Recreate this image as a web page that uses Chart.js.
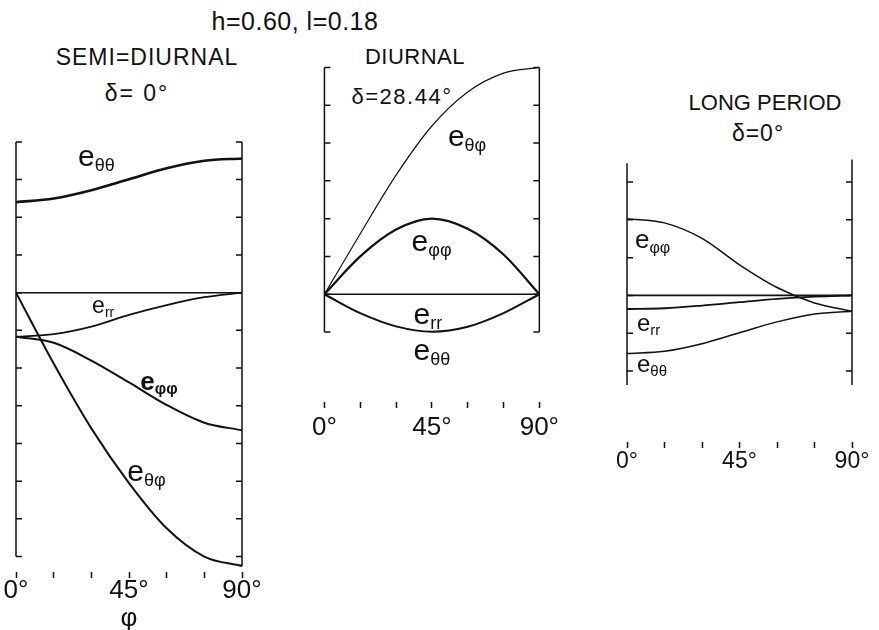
<!DOCTYPE html>
<html>
<head>
<meta charset="utf-8">
<script src="https://cdn.jsdelivr.net/npm/chart.js@4.4.1/dist/chart.umd.min.js"></script>
<style>
    body { margin: 0; background: #fff; width: 879px; height: 630px; overflow: hidden; position: relative;
           font-family: "Liberation Sans", Arial, sans-serif; color: #111; }
    canvas { position: absolute; }
    .txt { position: absolute; transform: translate(-50%, -50%); line-height: 1; white-space: nowrap; }
</style>
</head>
<body>
<div class="txt" style="left:295px; top:21px; font-size:25px; letter-spacing:0.5px;">h=0.60, l=0.18</div>
<div class="txt" style="left:147px; top:57px; font-size:23px; letter-spacing:1px;">SEMI=DIURNAL</div>
<div class="txt" style="left:137px; top:93px; font-size:23px; letter-spacing:2px;">δ= 0°</div>
<div class="txt" style="left:415px; top:57px; font-size:22px; letter-spacing:0.5px;">DIURNAL</div>
<div class="txt" style="left:402px; top:97px; font-size:22px; letter-spacing:1.5px;">δ=28.44°</div>
<div class="txt" style="left:765px; top:103px; font-size:22px;">LONG PERIOD</div>
<div class="txt" style="left:758px; top:133px; font-size:23px; letter-spacing:1px;">δ=0°</div>

<canvas id="semi" width="262" height="496" style="left:2px; top:136px;"></canvas>
<canvas id="diurnal" width="261" height="382" style="left:305px; top:60px;"></canvas>
<canvas id="long" width="261" height="330" style="left:613px; top:152px;"></canvas>

<script>
// latitude phi in degrees, shared by all three panels
const phiDeg = [0, 15, 30, 45, 60, 75, 90];
const xTickLabels = ['0°', '', '', '45°', '', '', '90°'];
const zeroPhi = [0, 90];
const zeroVal = [0, 0];

// semi-diurnal tide, delta = 0
const semiThetaTheta = [2.40, 2.50, 2.72, 3.01, 3.30, 3.50, 3.56];
const semiRr = [-1.17, -1.10, -0.90, -0.59, -0.33, -0.12, 0];
const semiPhiPhi = [-1.17, -1.33, -1.80, -2.38, -2.98, -3.45, -3.65];
const semiThetaPhi = [0, -1.88, -3.60, -5.05, -6.25, -7.00, -7.25];

// diurnal tide, delta = 28.44
const diurThetaPhi = [0, 1.60, 3.15, 4.45, 5.35, 5.85, 6.00];
const diurPhiPhi = [0, 1.00, 1.71, 2.00, 1.73, 1.05, 0];
const diurRrThetaTheta = [0, -0.50, -0.85, -0.99, -0.86, -0.50, 0];

// long period tide, delta = 0
const longPhiPhi = [2.03, 1.92, 1.51, 0.81, 0.21, -0.20, -0.42];
const longRr = [-0.36, -0.34, -0.27, -0.18, -0.09, -0.03, 0];
const longThetaTheta = [-1.54, -1.48, -1.28, -0.99, -0.70, -0.49, -0.42];

const FONT = '"Liberation Sans", Arial, sans-serif';
const INK = '#111';

const pts = (xs, ys) => ys.map((v, i) => ({ x: xs[i], y: v }));

// open frame: left and right uprights with inward ticks at every unit
const framePlugin = {
    id: 'frame',
    afterDatasetsDraw(chart, args, opts) {
        const { ctx, scales: { x, y } } = chart;
        ctx.save();
        ctx.strokeStyle = INK;
        ctx.lineWidth = 1.5;
        [['left', x.min, 1], ['right', x.max, -1]].forEach(([side, deg, dir]) => {
            const lo = opts[side][0], hi = opts[side][1];
            const px = x.getPixelForValue(deg);
            ctx.beginPath();
            ctx.moveTo(px, y.getPixelForValue(lo));
            ctx.lineTo(px, y.getPixelForValue(hi));
            for (let v = Math.ceil(lo); v <= Math.floor(hi); v++) {
                const py = y.getPixelForValue(v);
                ctx.moveTo(px, py);
                ctx.lineTo(px + dir * 6, py);
            }
            ctx.stroke();
        });
        ctx.restore();
    }
};

// "e" with a subscript pair, placed in data units
const strainLabels = {
    id: 'strainLabels',
    afterDatasetsDraw(chart, args, opts) {
        const { ctx, scales: { x, y } } = chart;
        ctx.save();
        ctx.fillStyle = INK;
        ctx.textAlign = 'left';
        ctx.textBaseline = 'alphabetic';
        opts.items.forEach(it => {
            const size = it.size || 30;
            const sub = it.subSize || 18;
            const weight = it.bold ? 'bold ' : '';
            const px = x.getPixelForValue(it.at[0]);
            const base = y.getPixelForValue(it.at[1]) + size * 0.26;
            ctx.font = weight + size + 'px ' + FONT;
            ctx.fillText('e', px, base);
            const w = ctx.measureText('e').width;
            ctx.font = weight + sub + 'px ' + FONT;
            ctx.fillText(it.sub, px + w, base + size * 0.17);
        });
        ctx.restore();
    }
};

function drawPanel(id, p) {
    const datasets = p.series.map(s => ({
        data: pts(s.xs || phiDeg, s.values),
        borderColor: INK,
        borderWidth: s.width,
        pointRadius: 0,
        cubicInterpolationMode: 'monotone',
        fill: false
    }));

    return new Chart(document.getElementById(id), {
        type: 'line',
        data: { datasets },
        options: {
            responsive: false,
            animation: false,
            events: [],
            layout: { padding: { left: 14, right: 22, top: 4, bottom: 0 } },
            plugins: {
                legend: { display: false },
                tooltip: { enabled: false },
                frame: p.frame,
                strainLabels: { items: p.labels }
            },
            scales: {
                x: {
                    type: 'linear',
                    min: 0,
                    max: 90,
                    border: { display: false },
                    grid: { drawOnChartArea: false, tickLength: 6, tickColor: INK, tickWidth: 1.5 },
                    ticks: {
                        stepSize: 15,
                        autoSkip: false,
                        maxRotation: 0,
                        padding: p.tickPad,
                        color: INK,
                        font: { family: FONT, size: p.tickSize, lineHeight: 1 },
                        callback: (v, i) => xTickLabels[i]
                    },
                    title: {
                        display: !!p.xTitle,
                        text: p.xTitle || '',
                        color: INK,
                        padding: 0,
                        font: { family: FONT, size: 26, lineHeight: 1 }
                    },
                    afterFit: s => { s.height = p.axisHeight; }
                },
                y: { display: false, min: p.yMin, max: p.yMax }
            }
        },
        plugins: [framePlugin, strainLabels]
    });
}

drawPanel('semi', {
    yMin: -7.41, yMax: 4.05,
    tickPad: 0, tickSize: 26, axisHeight: 60, xTitle: 'φ',
    frame: { left: [-7, 4], right: [-7.25, 4] },
    series: [
        { xs: zeroPhi, values: zeroVal, width: 1.5 },
        { values: semiThetaTheta, width: 2.6 },
        { values: semiRr, width: 1.8 },
        { values: semiPhiPhi, width: 2 },
        { values: semiThetaPhi, width: 2 }
    ],
    labels: [
        { sub: 'θθ', at: [24.7, 3.56] },
        { sub: 'rr', at: [30.3, -0.39], size: 23, subSize: 14 },
        { sub: 'φφ', at: [49.5, -2.40], size: 26, subSize: 16, bold: true },
        { sub: 'θφ', at: [44.3, -4.78] }
    ]
});

drawPanel('diurnal', {
    yMin: -2.85, yMax: 6.09,
    tickPad: 7, tickSize: 26, axisHeight: 40,
    frame: { left: [-1, 6], right: [-1, 6] },
    series: [
        { xs: zeroPhi, values: zeroVal, width: 1.3 },
        { values: diurThetaPhi, width: 1.2 },
        { values: diurPhiPhi, width: 2.2 },
        { values: diurRrThetaTheta, width: 2 }
    ],
    labels: [
        { sub: 'θφ', at: [51.7, 4.12] },
        { sub: 'φφ', at: [36.5, 1.34] },
        { sub: 'rr', at: [37.3, -0.59] },
        { sub: 'θθ', at: [37.3, -1.54] }
    ]
});

drawPanel('long', {
    yMin: -3.88, yMax: 3.69,
    tickPad: 2, tickSize: 23, axisHeight: 40,
    frame: { left: [-2.37, 3.5], right: [-2.37, 3.6] },
    series: [
        { xs: zeroPhi, values: zeroVal, width: 1.6 },
        { values: longPhiPhi, width: 1.5 },
        { values: longRr, width: 1.8 },
        { values: longThetaTheta, width: 1.5 }
    ],
    labels: [
        { sub: 'φφ', at: [3.2, 1.43], size: 26, subSize: 16 },
        { sub: 'rr', at: [4.0, -0.78], size: 24, subSize: 15 },
        { sub: 'θθ', at: [4.0, -1.87], size: 24, subSize: 15 }
    ]
});
</script>
</body>
</html>
